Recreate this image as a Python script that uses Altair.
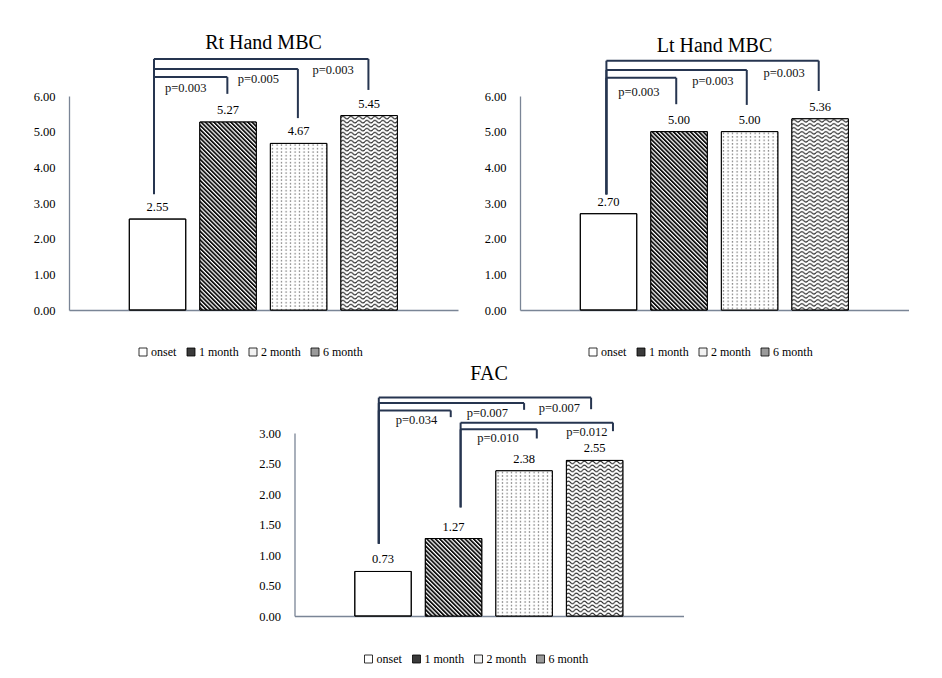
import altair as alt
import pandas as pd
from urllib.parse import quote

# ---------------- data ----------------
categories = ["onset", "1 month", "2 month", "6 month"]
rt_values = [2.55, 5.27, 4.67, 5.45]
lt_values = [2.70, 5.00, 5.00, 5.36]
fac_values = [0.73, 1.27, 2.38, 2.55]

mbc_ticks = [0, 1, 2, 3, 4, 5, 6]
fac_ticks = [0, 0.5, 1, 1.5, 2, 2.5, 3]

# significance brackets (annotation geometry in data units)
rt_br_x1 = [-0.05, -0.05, -0.05]
rt_br_x2 = [0.99, 1.99, 2.99]
rt_br_level = [6.53, 6.76, 7.04]
rt_br_end = [6.06, 5.38, 6.17]
rt_br_start = [3.25, 3.25, 3.25]
rt_p_text = ["p=0.003", "p=0.005", "p=0.003"]
rt_p_x = [0.40, 1.43, 2.49]
rt_p_y = [6.22, 6.48, 6.73]

lt_br_x1 = [-0.03, -0.03, -0.03]
lt_br_x2 = [0.96, 1.96, 2.98]
lt_br_level = [6.51, 6.73, 6.99]
lt_br_end = [5.77, 5.75, 6.14]
lt_br_start = [3.24, 3.24, 3.24]
lt_p_text = ["p=0.003", "p=0.003", "p=0.003"]
lt_p_x = [0.43, 1.48, 2.49]
lt_p_y = [6.11, 6.42, 6.65]

fac_br_x1 = [-0.06, -0.06, -0.06, 1.10, 1.10]
fac_br_x2 = [0.96, 2.00, 2.95, 2.18, 3.26]
fac_br_level = [3.37, 3.49, 3.58, 3.06, 3.17]
fac_br_end = [3.26, 3.38, 3.39, 2.91, 3.03]
fac_br_start = [1.185, 1.185, 1.185, 1.78, 1.78]
fac_p_text = ["p=0.034", "p=0.007", "p=0.007", "p=0.010", "p=0.012"]
fac_p_x = [0.475, 1.48, 2.50, 1.63, 2.89]
fac_p_y = [3.22, 3.33, 3.41, 2.92, 3.02]

# ---------------- styles ----------------
FONT = "Liberation Serif"
AXIS_COLOR = "#7a8596"
BRACKET_COLOR = "#263550"
legend_fill = ["#ffffff", "#3a3a3a", "#f2f2f2", "#9a9a9a"]


def svg_url(pattern_attrs, pattern_body):
    svg = ("<svg xmlns='http://www.w3.org/2000/svg' width='100%' height='100%'>"
           "<defs><pattern id='p' patternUnits='userSpaceOnUse' " + pattern_attrs + ">"
           + pattern_body + "</pattern></defs>"
           "<rect width='100%' height='100%' fill='url(#p)'/></svg>")
    return "data:image/svg+xml;charset=utf-8," + quote(svg)


patterns = {
    "1 month": svg_url("width='3' height='3' patternTransform='rotate(-45)'",
                       "<rect width='3' height='3' fill='white'/><rect width='1.8' height='3' fill='#111'/>"),
    "2 month": svg_url("width='4.5' height='3.5'",
                       "<rect width='4.5' height='3.5' fill='white'/><rect x='1.6' y='1.1' width='1.2' height='1.2' fill='#555'/>"),
    "6 month": svg_url("width='8' height='4'",
                       "<rect width='8' height='4' fill='white'/><path d='M0,2 Q2,-0.4 4,2 T8,2' fill='none' stroke='#222' stroke-width='1'/>"),
}

XDOM = [-1.255, 4.26]


def panel(values, title, ticks, ymax, height, title_offset, legend_xy,
          bx1, bx2, blevel, bend, bstart, ptext, px, py):
    df = pd.DataFrame({"cat": categories, "value": values, "idx": list(range(len(categories)))})
    df["url"] = [patterns.get(c, "") for c in categories]

    xs = alt.Scale(domain=XDOM, nice=False, zero=False)
    ys = alt.Scale(domain=[0, ymax], nice=False, zero=True)
    xaxis = alt.Axis(title=None, labels=False, ticks=False, grid=False,
                     domainColor=AXIS_COLOR, domainWidth=1.3)
    yaxis = alt.Axis(title=None, values=ticks, format=".2f", ticks=False,
                     grid=False, labelPadding=14, domainColor=AXIS_COLOR,
                     domainWidth=1.3, labelFont=FONT, labelFontSize=12.5,
                     labelColor="black")

    def X(f):
        return alt.X(f, scale=xs, axis=xaxis, title=None)

    def Y(f):
        return alt.Y(f, scale=ys, axis=yaxis, title=None)

    base = alt.Chart(df).transform_calculate(x0="datum.idx - 0.4", x1="datum.idx + 0.4")

    bars = base.mark_bar(stroke="black", strokeWidth=1).encode(
        x=X("x0:Q"), x2="x1:Q",
        y=Y("value:Q"), y2=alt.datum(0),
        color=alt.Color("cat:N", scale=alt.Scale(domain=categories, range=legend_fill),
                        legend=alt.Legend(orient="none", legendX=legend_xy[0], legendY=legend_xy[1],
                                          direction="horizontal", title=None, symbolType="square",
                                          symbolSize=64, symbolStrokeColor="black", symbolStrokeWidth=0.8,
                                          labelFont=FONT, labelFontSize=12, labelColor="black",
                                          columnPadding=8, labelOffset=2, padding=0)),
    )

    imgs = base.transform_filter("datum.url != ''").mark_image(aspect=False).encode(
        x=X("x0:Q"), x2="x1:Q",
        y=Y("value:Q"), y2=alt.datum(0),
        url="url:N",
    )

    outline = base.mark_bar(fillOpacity=0, stroke="black", strokeWidth=1).encode(
        x=X("x0:Q"), x2="x1:Q",
        y=Y("value:Q"), y2=alt.datum(0),
    )

    labels = base.mark_text(font=FONT, fontSize=12.5, color="black", baseline="alphabetic", dy=-8).encode(
        x=X("idx:Q"),
        y=Y("value:Q"),
        text=alt.Text("value:Q", format=".2f"),
    )

    segs = []
    for a, b, lv, e, s in zip(bx1, bx2, blevel, bend, bstart):
        segs.append({"xa": a, "xb": b, "ya": lv, "yb": lv})
        segs.append({"xa": b, "xb": b, "ya": lv, "yb": e})
        segs.append({"xa": a, "xb": a, "ya": lv, "yb": s})
    seg_df = pd.DataFrame(segs)
    rules = alt.Chart(seg_df).mark_rule(color=BRACKET_COLOR, strokeWidth=2).encode(
        x=X("xa:Q"), x2="xb:Q",
        y=Y("ya:Q"), y2="yb:Q",
    )

    p_df = pd.DataFrame({"t": ptext, "px": px, "py": py})
    ptexts = alt.Chart(p_df).mark_text(font=FONT, fontSize=12.5, color="#111", baseline="middle").encode(
        x=X("px:Q"),
        y=Y("py:Q"),
        text="t:N",
    )

    return alt.layer(bars, imgs, outline, labels, rules, ptexts).properties(
        width=389, height=height,
        title=alt.TitleParams(title, font=FONT, fontSize=20, fontWeight="normal", color="black",
                              offset=title_offset, anchor="middle"),
    )


p1 = panel(rt_values, "Rt Hand MBC", mbc_ticks, 6, 214, 5, (68, 250),
           rt_br_x1, rt_br_x2, rt_br_level, rt_br_end, rt_br_start, rt_p_text, rt_p_x, rt_p_y)
p2 = panel(lt_values, "Lt Hand MBC", mbc_ticks, 6, 214, 4, (67, 250),
           lt_br_x1, lt_br_x2, lt_br_level, lt_br_end, lt_br_start, lt_p_text, lt_p_x, lt_p_y)
p3 = panel(fac_values, "FAC", fac_ticks, 3, 183, 13, (68, 220),
           fac_br_x1, fac_br_x2, fac_br_level, fac_br_end, fac_br_start, fac_p_text, fac_p_x, fac_p_y)

top = alt.hconcat(p1, p2, spacing=26).resolve_scale(color="independent").resolve_legend(color="independent")
chart = alt.vconcat(top, p3, spacing=5, center=True).resolve_scale(
    color="independent").resolve_legend(color="independent").properties(
    padding={"left": 25, "top": 24, "right": 0, "bottom": 0}
).configure(background="white").configure_view(stroke="transparent", strokeWidth=0)

chart.save("out.html", embed_options={"renderer": "svg", "actions": False})
